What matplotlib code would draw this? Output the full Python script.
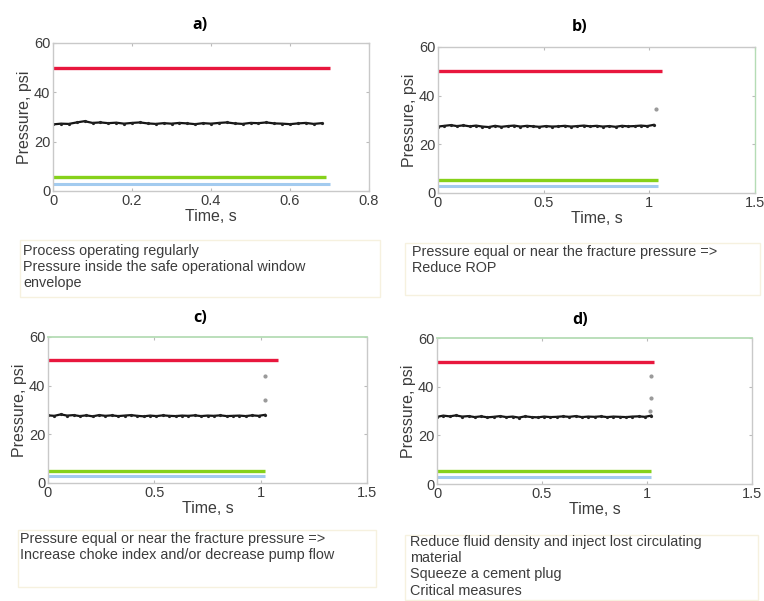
import matplotlib
matplotlib.use("Agg")
import matplotlib.pyplot as plt
from matplotlib.patches import Rectangle

# ---------------- data ----------------
panel_titles = ["a)", "b)", "c)", "d)"]
xlims = [0.8, 1.5, 1.5, 1.5]
xticks_a = [0, 0.2, 0.4, 0.6, 0.8]
xticklabels_a = ["0", "0.2", "0.4", "0.6", "0.8"]
xticks_bcd = [0, 0.5, 1, 1.5]
xticklabels_bcd = ["0", "0.5", "1", "1.5"]
yticks = [0, 20, 40, 60]
yticklabels = ["0", "20", "40", "60"]

time_a = [0.00, 0.02, 0.04, 0.06, 0.08, 0.10, 0.12, 0.14, 0.16, 0.18, 0.20, 0.22,
          0.24, 0.26, 0.28, 0.30, 0.32, 0.34, 0.36, 0.38, 0.40, 0.42, 0.44, 0.46,
          0.48, 0.50, 0.52, 0.54, 0.56, 0.58, 0.60, 0.62, 0.64, 0.66, 0.68]
time_bcd = [0.00, 0.03, 0.06, 0.09, 0.12, 0.15, 0.18, 0.21, 0.24, 0.27, 0.30, 0.33,
            0.36, 0.39, 0.42, 0.45, 0.48, 0.51, 0.54, 0.57, 0.60, 0.63, 0.66, 0.69,
            0.72, 0.75, 0.78, 0.81, 0.84, 0.87, 0.90, 0.93, 0.96, 0.99, 1.02]

pressure_a = [27.0, 27.3, 27.2, 27.8, 28.3, 27.6, 27.8, 27.5, 27.7, 27.3, 27.6, 27.8,
              27.4, 27.2, 27.5, 27.3, 27.6, 27.4, 27.1, 27.5, 27.3, 27.6, 27.8, 27.4,
              27.2, 27.6, 27.5, 27.8, 27.4, 27.3, 27.1, 27.4, 27.6, 27.2, 27.5]
pressure_b = [27.3, 27.6, 27.9, 27.5, 27.8, 27.4, 27.7, 27.3, 27.1, 27.6, 27.2, 27.5,
              27.7, 27.3, 27.6, 27.4, 27.2, 27.5, 27.3, 27.4, 27.6, 27.3, 27.5, 27.7,
              27.4, 27.6, 27.3, 27.5, 27.2, 27.6, 27.4, 27.5, 27.7, 27.5, 28.0]
pressure_c = [27.8, 27.6, 28.2, 27.7, 27.9, 27.5, 27.8, 27.4, 27.9, 27.6, 27.8, 27.5,
              27.7, 27.9, 27.6, 27.4, 27.7, 27.5, 27.8, 27.6, 27.5, 27.7, 27.6, 27.8,
              27.5, 27.7, 27.6, 27.8, 27.5, 27.6, 27.7, 27.5, 27.8, 27.6, 28.0]
pressure_d = [27.6, 28.1, 27.8, 28.2, 27.7, 27.9, 27.5, 27.8, 27.4, 27.6, 27.9, 27.5,
              27.7, 27.3, 27.8, 27.5, 27.4, 27.7, 27.5, 27.6, 27.8, 27.6, 27.9, 27.5,
              27.7, 27.6, 27.8, 27.5, 27.7, 27.6, 27.5, 27.7, 27.8, 27.6, 28.1]

# spike points (time, pressure)
spike_t_b = [1.03]
spike_p_b = [34.5]
spike_t_c = [1.02, 1.02]
spike_p_c = [44.0, 34.0]
spike_t_d = [1.02, 1.02, 1.015]
spike_p_d = [44.5, 35.5, 30.0]

# limit lines: level and end time per panel
fracture_level = [50, 50, 50.5, 50]
fracture_end = [0.70, 1.06, 1.08, 1.035]
upper_low_level = [5.8, 5.5, 5.0, 5.3]
upper_low_end = [0.69, 1.04, 1.02, 1.02]
lower_low_level = [2.9, 2.8, 2.8, 3.0]
lower_low_end = [0.70, 1.04, 1.02, 1.02]

notes = [
    "Process operating regularly\nPressure inside the safe operational window\nenvelope",
    "Pressure equal or near the fracture pressure =>\nReduce ROP",
    "Pressure equal or near the fracture pressure =>\nIncrease choke index and/or decrease pump flow",
    "Reduce fluid density and inject lost circulating\nmaterial\nSqueeze a cement plug\nCritical measures",
]

# ---------------- layout ----------------
W, H = 764, 601
fig = plt.figure(figsize=(W / 100, H / 100), dpi=100)
plt.rcParams['font.family'] = ['Liberation Sans', 'DejaVu Sans']

def frac(left, top, right, bottom):
    return [left / W, 1 - bottom / H, (right - left) / W, (bottom - top) / H]

axes_px = [(53, 43, 369, 191), (438, 47, 755, 193), (48, 337, 367, 483), (437, 338, 752, 484)]
title_px = [(200, 25), (580, 27), (200, 318), (580, 320)]
note_px = [(23, 244), (412, 245), (20, 532), (410, 535)]
box_px = [(20, 240, 380, 297), (405, 243, 760, 295), (18, 530, 376, 587), (405, 535, 758, 600)]

times = [time_a, time_bcd, time_bcd, time_bcd]
pressures = [pressure_a, pressure_b, pressure_c, pressure_d]
spikes = [([], []), (spike_t_b, spike_p_b), (spike_t_c, spike_p_c), (spike_t_d, spike_p_d)]

spine_gray = '#c9c9c9'
spine_green = '#b5dcb5'
text_gray = '#3c3c3c'

for i in range(4):
    ax = fig.add_axes(frac(*axes_px[i]))
    ax.set_xlim(0, xlims[i])
    ax.set_ylim(0, 60)

    ax.plot([0, fracture_end[i]], [fracture_level[i]] * 2, color='#e8173d', lw=2.4, solid_capstyle='butt')
    ax.plot([0, upper_low_end[i]], [upper_low_level[i]] * 2, color='#86d11a', lw=2.4, solid_capstyle='butt')
    ax.plot([0, lower_low_end[i]], [lower_low_level[i]] * 2, color='#a3cbef', lw=2.2, solid_capstyle='butt')

    ax.plot(times[i], pressures[i], color='#151515', lw=1.6, marker='o', ms=1.3,
            mec='#222222', mfc='#222222')
    st, sp = spikes[i]
    if st:
        ax.plot(st, sp, ls='none', marker='o', ms=2.0, color='#9a9a9a')

    if i == 0:
        ax.set_xticks(xticks_a)
        ax.set_xticklabels(xticklabels_a)
    else:
        ax.set_xticks(xticks_bcd)
        ax.set_xticklabels(xticklabels_bcd)
    ax.set_yticks(yticks)
    ax.set_yticklabels(yticklabels)

    for s in ax.spines.values():
        s.set_color(spine_gray)
        s.set_linewidth(1.0)
    if i == 1:
        ax.spines['right'].set_color(spine_green)
    if i in (2, 3):
        ax.spines['top'].set_color(spine_green)
        ax.spines['top'].set_linewidth(1.3)

    ax.tick_params(direction='in', length=2.5, width=0.8, color='#bbbbbb',
                   labelsize=10.5, labelcolor=text_gray, pad=2, top=True, right=True)
    ax.set_xlabel("Time, s", fontsize=11.5, color=text_gray, labelpad=1)
    ax.set_ylabel("Pressure, psi", fontsize=11.5, color=text_gray, labelpad=1)

    tx, ty = title_px[i]
    fig.text(tx / W, 1 - ty / H, panel_titles[i], fontsize=11.5, fontweight='bold',
             family=['Open Sans', 'DejaVu Sans'], ha='center', va='center', color='black')

    bl, bt, br, bb = box_px[i]
    fig.patches.append(Rectangle((bl / W, 1 - bb / H), (br - bl) / W, (bb - bt) / H,
                                 transform=fig.transFigure, fill=False,
                                 edgecolor='#f6f1df', lw=1.0))
    nx, ny = note_px[i]
    fig.text(nx / W, 1 - ny / H, notes[i], fontsize=10.4, color=text_gray,
             ha='left', va='top', linespacing=1.2)

fig.savefig("out.png", dpi=100)
